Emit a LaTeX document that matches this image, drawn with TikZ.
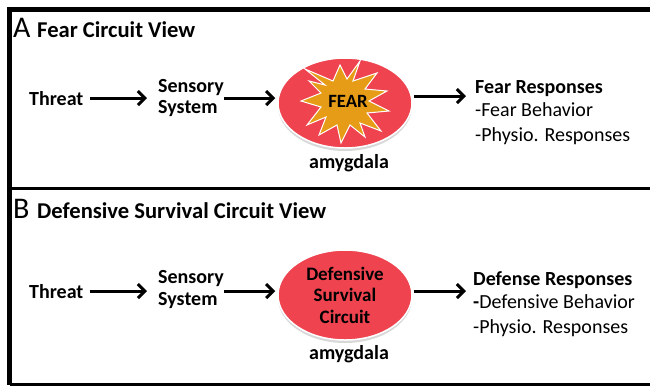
\documentclass[tikz,border=0pt]{standalone}
\usepackage{fontspec}
\setmainfont{Carlito}
\usetikzlibrary{arrows.meta,shapes.geometric,shadows,calc}
\definecolor{ellred}{RGB}{239,67,79}
\definecolor{starorange}{RGB}{230,156,22}
\begin{document}
\begin{tikzpicture}[x=1bp,y=-1bp,
  lbl/.style={font=\fontsize{20bp}{21.5bp}\selectfont\bfseries, inner sep=0pt, anchor=base west},
  ttl/.style={font=\fontsize{22.6bp}{25bp}\selectfont\bfseries, inner sep=0pt, anchor=base west},
  reg/.style={font=\fontsize{20bp}{22bp}\selectfont, inner sep=0pt, anchor=base west},
  big/.style={font=\fontsize{30bp}{34bp}\selectfont, inner sep=0pt, anchor=base west},
  arr/.style={line width=3bp, -{Straight Barb[length=7bp,width=14bp]}},
  circ/.style={ellipse, fill=ellred, draw=white, line width=1.5bp, minimum width=134bp,
    minimum height=90bp, inner sep=0pt,
    drop shadow={shadow xshift=0bp, shadow yshift=-3bp, opacity=0.3}},
  starshape/.style={draw=white, fill=starorange, line width=1bp, line join=miter}]
\useasboundingbox (0,0) rectangle (650,385);
\fill[white] (0,0) rectangle (650,385);
% borders
\draw[line width=4.5bp] (650,9.5) -- (9.5,9.5) -- (9.5,385);
\draw[line width=3bp] (9.5,188) -- (650,188);
\draw[line width=3bp] (9.5,384) -- (650,384);

% ---------- Panel A ----------
\node[big] (labA) at (13,37.5) {A};
\node[ttl] (titA) at (37,37.5) {Fear Circuit View};
\node[lbl] (thrA) at (29,105) {Threat};
\node[lbl] (senA) at (158,92) {Sensory};
\node[lbl] (sysA) at (158,113) {System};
\node[circ] (cirA) at (345,103) {};
\begin{scope}[shift={(cirA.center)}]
\draw[starshape] (15,-42) -- (8,-22) -- (32,-30) -- (20,-14) -- (42,-12) -- (24,-2)
  -- (44,8) -- (22,10) -- (36,28) -- (15,20) -- (20,34) -- (5,22) -- (-4,40)
  -- (-8,22) -- (-26,32) -- (-19,14) -- (-38,22) -- (-24,4) -- (-44,-2)
  -- (-24,-10) -- (-36,-22) -- (-20,-18) -- (-40,-34) -- (-12,-22) -- (-5,-38)
  -- (2,-24) -- cycle;
\end{scope}
\node[lbl, anchor=center, font=\fontsize{18.7bp}{21bp}\selectfont\bfseries] (fearT) at (348,101) {FEAR};
\node[lbl, anchor=base] (amyA) at (349,168) {amygdala};
\node[lbl] (rspA) at (475,93) {Fear Responses};
\node[reg] (rA1) at (475,116) {-Fear Behavior};
\node[reg] (rA2) at (475,141) {-Physio. Responses};

\draw[arr] ($(thrA.east)+(6,0)$) -- ($(thrA.east -| senA.west)+(-11,0)$);
\draw[arr] ($(senA.east |- thrA.east)+(0,0)$) -- ($(cirA.west |- thrA.east)+(-2,0)$);
\draw[arr] ($(cirA.east |- thrA.east)+(1,-2)$) -- ($(rspA.west |- thrA.east)+(-9,-2)$);

% ---------- Panel B ----------
\node[big] (labB) at (13,218) {B};
\node[ttl] (titB) at (37,218) {Defensive Survival Circuit View};
\node[lbl] (thrB) at (29,298) {Threat};
\node[lbl] (senB) at (158,283) {Sensory};
\node[lbl] (sysB) at (158,305.5) {System};
\node[circ, align=center, font=\fontsize{19bp}{21.5bp}\selectfont\bfseries] (cirB) at (345,295) {Defensive\\Survival\\Circuit};
\node[lbl, anchor=base] (amyB) at (349,359) {amygdala};
\node[lbl] (rspB) at (473,285) {Defense Responses};
\node[reg] (rB1) at (473,308) {\textbf{-}Defensive Behavior};
\node[reg] (rB2) at (473,333) {-Physio. Responses};

\draw[arr] ($(thrB.east)+(6,0)$) -- ($(thrB.east -| senB.west)+(-11,0)$);
\draw[arr] ($(senB.east |- thrB.east)+(0,0)$) -- ($(cirB.west |- thrB.east)+(-2,0)$);
\draw[arr] ($(cirB.east |- thrB.east)+(1,0)$) -- ($(rspB.west |- thrB.east)+(-7,0)$);
\end{tikzpicture}
\end{document}
